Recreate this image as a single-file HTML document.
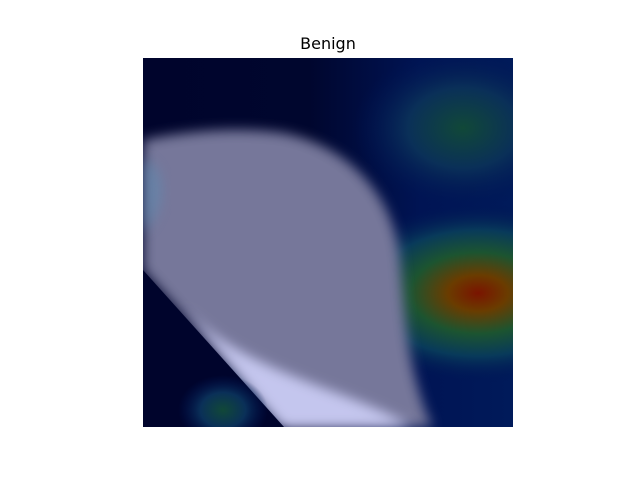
<!DOCTYPE html>
<html><head><meta charset="utf-8"><style>
body{margin:0;background:#fff;width:640px;height:480px;overflow:hidden;position:relative;font-family:"DejaVu Sans","Liberation Sans",sans-serif}
#title{position:absolute;top:34px;left:0;width:656px;text-align:center;font-size:16px;color:#000}
svg{position:absolute;left:143px;top:58px}
</style></head><body>
<div id="title">Benign</div>
<svg width="370" height="369" viewBox="0 0 370 369">
<defs>
<filter id="b8" x="-50%" y="-50%" width="200%" height="200%"><feGaussianBlur stdDeviation="6"/></filter>
<filter id="b2"><feGaussianBlur stdDeviation="1.5"/></filter>
<linearGradient id="bg" x1="0" y1="0" x2="1" y2="0">
<stop offset="0" stop-color="#00042c"/><stop offset="0.45" stop-color="#00062e"/><stop offset="0.75" stop-color="#001454"/><stop offset="1" stop-color="#001a5a"/></linearGradient>
<radialGradient id="red" cx="0.5" cy="0.5" r="0.5">
<stop offset="0" stop-color="#7a1400"/><stop offset="0.2" stop-color="#6a3c00"/><stop offset="0.45" stop-color="#1c5430"/><stop offset="0.7" stop-color="#083a5a"/><stop offset="1" stop-color="#001454" stop-opacity="0"/></radialGradient>
<radialGradient id="grn" cx="0.5" cy="0.5" r="0.5">
<stop offset="0" stop-color="#114838"/><stop offset="0.5" stop-color="#0a3058"/><stop offset="1" stop-color="#001454" stop-opacity="0"/></radialGradient>
<clipPath id="c"><rect width="370" height="369"/></clipPath>
</defs>
<g clip-path="url(#c)">
<rect width="370" height="369" fill="url(#bg)"/>
<ellipse cx="320" cy="70" rx="110" ry="80" fill="url(#grn)"/>
<ellipse cx="335" cy="235" rx="150" ry="90" fill="url(#red)"/>
<ellipse cx="80" cy="350" rx="70" ry="55" fill="url(#grn)"/>
<path d="M0,82 C40,74 90,68 140,75 C205,88 248,135 256,195 C262,255 262,300 285,360 L290,369 L140,369 L0,212 Z" fill="#76779a" filter="url(#b8)"/>
<path d="M0,100 C25,110 25,150 0,175 Z" fill="#5f8ab0" opacity="0.6" filter="url(#b8)"/>
<path d="M40,250 L140,369 L270,369 C220,340 170,330 110,300 C80,285 60,270 40,250 Z" fill="#c4c6ee" filter="url(#b8)"/>
<path d="M0,212 L141,369 L0,369 Z" fill="#00042c"/>
<ellipse cx="80" cy="352" rx="45" ry="35" fill="url(#grn)"/>
</g>
</svg>
</body></html>
